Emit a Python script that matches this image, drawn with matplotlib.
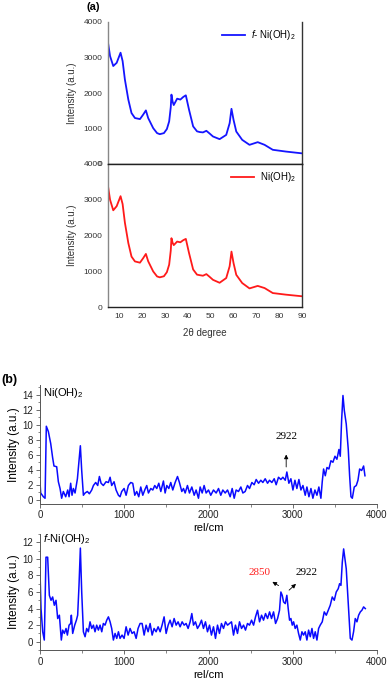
import matplotlib
matplotlib.use('Agg')
import matplotlib.pyplot as plt
from matplotlib.ticker import MultipleLocator

plt.rcParams['font.family'] = ['Liberation Sans', 'DejaVu Sans']
plt.rcParams['mathtext.fontset'] = 'custom'
plt.rcParams['mathtext.rm'] = 'Liberation Sans'
plt.rcParams['mathtext.it'] = 'Liberation Sans:italic'

# ---- (a) XRD data ----
xrd_2theta_f = [5, 5.9, 7.3, 8.8, 10.5, 11.4, 12.4, 13.9, 15.3, 16.8, 19, 20.4, 21.6, 22.6,
                24.8, 26.5, 27.7, 29.5, 30.8, 31.8, 32.5, 32.8, 33.3, 33.8, 35.3, 36.7, 38,
                39.1, 40.5, 42.3, 44, 45.2, 46.6, 48.1, 49.5, 51, 53.9, 56.8, 58.3,
                59.1, 60, 61.2, 63.8, 67, 70.6, 73.6, 77.2, 83, 90]
xrd_int_f = [3420, 3040, 2760, 2850, 3135, 2900, 2380, 1815, 1435, 1295, 1265, 1390, 1510, 1295,
             1010, 870, 840, 870, 985, 1200, 1600, 1955, 1760, 1660, 1840, 1815, 1890,
             1935, 1530, 1060, 920, 900, 890, 935, 860, 775, 700, 820, 1150,
             1555, 1245, 915, 680, 540, 615, 540, 400, 350, 300]

xrd_2theta = [5, 5.9, 7.3, 8.8, 10.5, 11.4, 12.4, 13.9, 15.3, 16.8, 19, 20.4, 21.6, 22.6,
              24.8, 26.5, 27.7, 29.5, 30.8, 31.8, 32.5, 32.8, 33.3, 33.8, 35.3, 36.7, 38,
              39.1, 40.5, 42.3, 44, 45.2, 46.6, 48.1, 49.5, 51, 53.9, 56.8, 58.3,
              59.1, 60, 61.2, 63.8, 67, 70.6, 73.6, 77.2, 83, 90]
xrd_int = [3380, 3000, 2705, 2820, 3100, 2880, 2360, 1790, 1410, 1275, 1240, 1365, 1485, 1280,
           995, 855, 830, 860, 975, 1185, 1580, 1925, 1800, 1730, 1830, 1810, 1870,
           1905, 1510, 1050, 905, 890, 875, 920, 845, 760, 678, 810, 1140,
           1550, 1230, 900, 670, 520, 590, 530, 390, 345, 300]

# ---- (b) Raman data ----
raman_x_ni = [0, 8, 40, 60, 75, 99, 127, 150, 166, 198, 218, 238, 257, 277, 305, 329, 345, 364,
              380, 396, 416, 444, 459, 479, 495, 515, 535, 562, 586, 614, 634, 661, 685, 705,
              725, 752, 784, 812, 832, 851, 879, 903, 931, 950, 970, 998, 1022, 1049, 1077,
              1101, 1125, 1148, 1172, 1196, 1220, 1247, 1267, 1287, 1315, 1339, 1362, 1386,
              1410, 1434, 1465, 1485, 1505, 1529, 1552, 1576, 1604, 1632, 1655, 1683, 1703,
              1723, 1750, 1774, 1802, 1830, 1853, 1881, 1901, 1925, 1948, 1972, 2000, 2027,
              2059, 2091, 2119, 2146, 2170, 2198, 2226, 2257, 2281, 2305, 2328, 2356, 2384,
              2408, 2435, 2463, 2487, 2515, 2542, 2566, 2594, 2621, 2645, 2673, 2701, 2724,
              2752, 2780, 2803, 2831, 2859, 2883, 2911, 2930, 2954, 2978, 3002, 3026, 3049,
              3073, 3097, 3121, 3148, 3168, 3192, 3216, 3239, 3263, 3287, 3310, 3334, 3350,
              3366, 3386, 3406, 3429, 3453, 3477, 3501, 3524, 3548, 3564, 3580, 3596, 3612,
              3635, 3659, 3675, 3691, 3707, 3730, 3754, 3774, 3794, 3818, 3841, 3857]
raman_y_ni = [2.3, 0.9, 0.4, 0.2, 9.8, 9.1, 7.5, 5.6, 4.5, 4.4, 2.4, 1.5, 0.2, 1.1, 0.4, 1.3,
              0.4, 2.2, 0.6, 1.5, 0.9, 2.8, 4.7, 7.2, 3.9, 0.6, 0.9, 1.1, 0.8, 1.3, 1.9, 2.3,
              1.9, 3.1, 2.2, 1.9, 2.4, 2.3, 3.0, 1.9, 2.4, 1.3, 0.6, 0.4, 1.1, 1.5, 0.6, 1.9,
              2.3, 2.2, 0.6, 1.1, 0.4, 1.7, 0.6, 1.4, 1.9, 0.9, 1.5, 1.3, 1.9, 1.5, 2.2, 1.1,
              2.5, 0.9, 1.9, 1.5, 2.3, 1.3, 2.3, 3.1, 2.3, 1.1, 1.5, 0.9, 1.9, 0.9, 1.7, 0.6,
              1.3, 0.2, 1.7, 0.9, 1.9, 0.9, 1.3, 0.6, 1.3, 0.9, 1.5, 0.6, 1.3, 0.9, 1.3, 0.4,
              1.5, 0.2, 1.3, 1.1, 1.7, 0.9, 1.1, 1.9, 1.5, 2.3, 2.0, 2.7, 2.2, 2.6, 2.3, 2.8,
              2.2, 2.6, 2.3, 2.8, 2.0, 3.0, 2.7, 3.0, 2.6, 3.7, 2.2, 2.8, 1.3, 2.6, 1.5, 2.7,
              1.3, 1.9, 0.6, 1.7, 0.4, 1.5, 0.2, 1.3, 0.6, 1.7, 0.2, 2.4, 4.1, 3.2, 4.3, 4.1,
              5.2, 5.0, 5.8, 5.4, 6.7, 5.8, 10.6, 13.9, 11.9, 10.1, 6.7, 3.2, 0.4, 0.2, 1.7,
              1.9, 2.6, 4.1, 3.9, 4.5, 3.2]

raman_x_f = [0, 12, 32, 51, 71, 91, 111, 131, 150, 170, 190, 210, 230, 253, 269, 289, 309, 325,
             345, 364, 372, 388, 412, 432, 447, 463, 479, 495, 515, 535, 554, 574, 594, 614,
             634, 653, 673, 693, 713, 733, 752, 772, 792, 812, 832, 851, 871, 891, 911, 931,
             950, 974, 998, 1022, 1046, 1069, 1093, 1117, 1141, 1164, 1188, 1212, 1236, 1259,
             1283, 1307, 1331, 1354, 1378, 1402, 1426, 1449, 1473, 1497, 1521, 1544, 1568,
             1592, 1616, 1639, 1663, 1687, 1711, 1734, 1758, 1782, 1802, 1822, 1845, 1869,
             1893, 1917, 1940, 1964, 1988, 2012, 2035, 2059, 2083, 2107, 2130, 2154, 2178,
             2202, 2226, 2249, 2273, 2297, 2320, 2344, 2368, 2392, 2416, 2439, 2463, 2487,
             2511, 2535, 2558, 2582, 2606, 2630, 2653, 2677, 2701, 2725, 2748, 2772, 2796,
             2820, 2843, 2859, 2875, 2891, 2911, 2930, 2946, 2962, 2978, 2994, 3010, 3029,
             3049, 3069, 3089, 3109, 3128, 3148, 3168, 3188, 3208, 3228, 3247, 3267, 3287,
             3307, 3326, 3350, 3374, 3398, 3421, 3445, 3469, 3493, 3516, 3540, 3556, 3572,
             3588, 3604, 3620, 3635, 3651, 3667, 3683, 3703, 3722, 3742, 3762, 3782, 3802,
             3821, 3841, 3861]
raman_y_f = [8.4, 4.0, 1.2, 0.2, 10.2, 10.2, 5.6, 5.0, 5.4, 4.4, 5.0, 2.8, 3.2, 0.2, 1.4, 1.0,
             1.6, 0.8, 2.0, 2.2, 3.2, 1.0, 2.0, 2.6, 3.2, 6.8, 11.3, 6.0, 1.2, 0.6, 1.6, 1.2,
             2.4, 1.6, 2.0, 1.2, 2.0, 1.4, 2.0, 1.2, 2.2, 2.0, 2.6, 3.0, 2.4, 1.6, 0.2, 1.0,
             0.4, 1.2, 0.4, 0.8, 0.4, 1.8, 0.8, 1.6, 1.0, 1.2, 0.4, 1.6, 2.2, 2.2, 0.8, 2.0,
             1.2, 2.2, 0.8, 1.6, 1.2, 1.8, 1.2, 2.0, 3.0, 1.0, 2.0, 2.6, 1.8, 2.8, 2.0, 2.4,
             1.8, 2.4, 2.0, 2.2, 1.6, 2.4, 3.4, 2.0, 2.4, 1.6, 2.0, 2.6, 1.6, 2.4, 1.2, 2.0,
             0.8, 1.8, 0.4, 2.0, 1.0, 2.2, 1.6, 2.4, 2.0, 2.2, 2.4, 0.8, 2.0, 1.0, 2.4, 1.6,
             2.0, 1.4, 2.2, 2.0, 2.6, 2.0, 3.0, 3.8, 2.4, 3.2, 2.6, 3.4, 2.8, 3.6, 2.8, 3.6,
             2.2, 2.8, 3.8, 6.0, 5.6, 4.8, 4.6, 5.6, 4.0, 2.6, 2.8, 2.0, 2.4, 1.6, 2.0, 1.0,
             0.2, 1.2, 0.8, 1.2, 0.2, 1.4, 0.6, 1.6, 0.4, 1.2, 0.2, 1.6, 2.0, 2.4, 3.6, 3.2,
             3.8, 4.4, 5.4, 5.0, 6.0, 6.4, 7.0, 6.8, 9.6, 11.2, 10.0, 8.8, 6.0, 3.2, 0.4, 0.2,
             1.2, 2.8, 2.4, 3.2, 3.6, 3.8, 4.2, 4.0]

W, H = 389, 685
fig = plt.figure(figsize=(W / 100, H / 100), dpi=100)


def box(left, top, right, bottom):
    return [left / W, 1 - bottom / H, (right - left) / W, (bottom - top) / H]


# ============================================================
# Panel (a): XRD, two stacked plots
# ============================================================
ax1 = fig.add_axes(box(108, 22, 302, 164))
ax2 = fig.add_axes(box(108, 164, 302, 307))

ax1.plot(xrd_2theta_f, xrd_int_f, color='#1515ff', lw=1.3, label=r'$\it{f}$- Ni(OH)$_2$')
ax2.plot(xrd_2theta, xrd_int, color='#ff1a1a', lw=1.3, label=r'Ni(OH)$_2$')

for ax in (ax1, ax2):
    ax.set_xlim(5, 90)
    ax.set_ylim(0, 4000)
    ax.set_yticks([0, 1000, 2000, 3000, 4000])
    ax.tick_params(length=0, labelsize=6, pad=4, labelcolor='#333333')
    ax.set_ylabel('Intensity (a.u.)', fontsize=7, color='#333333', labelpad=5)
    ax.spines['left'].set_color('#888888')
    ax.spines['right'].set_color('#333333')
    ax.spines['bottom'].set_color('#222222')
    ax.spines['top'].set_color('#222222')
    for s in ax.spines.values():
        s.set_linewidth(1.0)
    ax.legend(loc='upper right', frameon=False, fontsize=7, handlelength=2.4,
              borderaxespad=0.25, handletextpad=0.6)

ax1.spines['top'].set_visible(False)
ax1.set_xticks([])
ax2.set_xticks(range(10, 91, 10))
ax2.set_xlabel('2\u03b8 degree', fontsize=7, color='#333333', labelpad=6)
fig.text(93 / W, 1 - 7 / H, '(a)', fontsize=8, fontweight='bold', va='center', ha='center')

# ============================================================
# Panel (b): Raman, two stacked plots
# ============================================================
ax3 = fig.add_axes(box(40, 385, 377, 503.5))
ax4 = fig.add_axes(box(40, 534, 377, 650))

ax3.plot(raman_x_ni, raman_y_ni, color='#0a0aff', lw=1.1)
ax4.plot(raman_x_f, raman_y_f, color='#0a0aff', lw=1.1)

ax3.set_ylim(-0.5, 15.3)
ax4.set_ylim(-1, 13)
for ax in (ax3, ax4):
    ax.set_xlim(0, 4000)
    ax.set_yticks(range(0, 15 if ax is ax3 else 13, 2))
    ax.xaxis.set_major_locator(MultipleLocator(1000))
    ax.xaxis.set_minor_locator(MultipleLocator(500))
    ax.yaxis.set_minor_locator(MultipleLocator(1))
    ax.spines['top'].set_visible(False)
    ax.spines['right'].set_visible(False)
    for s in ax.spines.values():
        s.set_color('#555555')
        s.set_linewidth(0.7)
    ax.tick_params(which='major', length=3, width=0.6, labelsize=7, pad=2, colors='#555555',
                   labelcolor='#222222')
    ax.tick_params(which='minor', length=1.8, width=0.5, colors='#555555')
    ax.set_ylabel('Intensity (a.u.)', fontsize=8.5, labelpad=2)
    ax.set_xlabel('rel/cm', fontsize=8, labelpad=2)

ax3.text(0.01, 0.99, r'Ni(OH)$_2$', transform=ax3.transAxes, fontsize=8, va='top')
ax4.text(0.01, 1.02, r'$\it{f}$-Ni(OH)$_2$', transform=ax4.transAxes, fontsize=8, va='top')

# annotations
serif = ['Liberation Serif', 'DejaVu Serif']
ax3.text(2922, 8.4, '2922', family=serif, fontsize=8, ha='center', va='center')
ax3.annotate('', xy=(2922, 6.4), xytext=(2922, 4.0),
             arrowprops=dict(arrowstyle='-|>', color='k', lw=0.6, mutation_scale=6))

ax4.text(2611, 8.3, '2850', family=serif, fontsize=8, ha='center', va='center', color='#ff2020')
ax4.text(3167, 8.3, '2922', family=serif, fontsize=8, ha='center', va='center')
ax4.annotate('', xy=(2730, 7.4), xytext=(2860, 6.6),
             arrowprops=dict(arrowstyle='-|>', color='k', lw=0.6, mutation_scale=6))
ax4.annotate('', xy=(3063, 7.2), xytext=(2932, 6.0),
             arrowprops=dict(arrowstyle='-|>', color='k', lw=0.6, mutation_scale=6))

fig.text(1 / W, 1 - 380 / H, '(b)', fontsize=9, fontweight='bold', va='center')

fig.savefig('out.png', dpi=100)
